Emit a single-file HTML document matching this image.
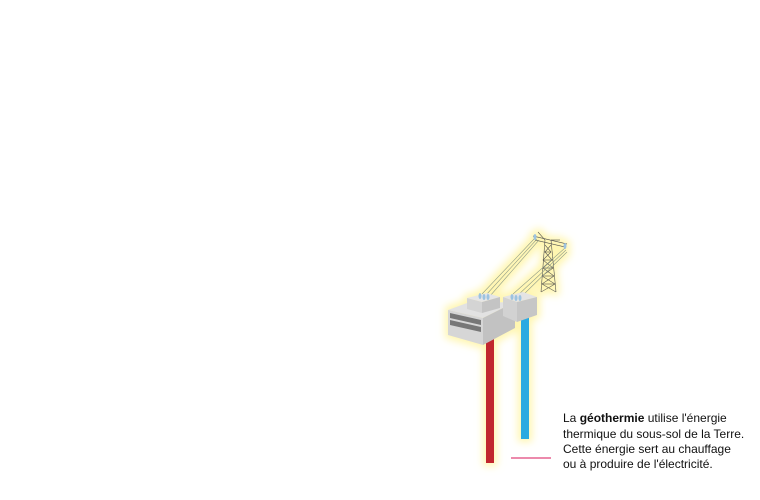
<!DOCTYPE html>
<html><head><style>
html,body{margin:0;padding:0;background:#fff;}
svg{display:block}
</style></head><body>
<svg width="760" height="500" viewBox="0 0 760 500" xmlns="http://www.w3.org/2000/svg">
<defs>
<filter id="g" x="-30%" y="-30%" width="160%" height="160%">
<feMorphology in="SourceAlpha" operator="dilate" radius="3" result="d"/>
<feGaussianBlur in="d" stdDeviation="4" result="b"/>
<feFlood flood-color="#fff6b0"/>
<feComposite in2="b" operator="in" result="c"/>
<feMerge><feMergeNode in="c"/><feMergeNode in="SourceGraphic"/></feMerge>
</filter>
</defs>
<g filter="url(#g)">
<!-- pipes -->
<rect x="486" y="335" width="8" height="128" fill="#c1272d"/>
<rect x="521" y="312" width="8" height="127" fill="#29aae1"/>
<!-- tower -->
<g stroke="#555" stroke-width="0.7" fill="none">
<path d="M545 240 L541 292 M551 240 L556 292"/>
<path d="M533 236 L567 244 M535 240 L565 247"/>
<path d="M545 245 L551 252 L543 260 L553 268 L542 276 L555 284 L541 292 M551 245 L545 252 L552 260 L543 268 L554 276 L542 284 L556 292"/>
<path d="M544 252 H551 M543 260 H553 M543 268 H553 M542 276 H554 M542 284 H555"/>
<path d="M538 232 L545 240 M560 240 L551 240"/>
</g>
<!-- wires -->
<g stroke="#8a9a8a" stroke-width="0.6" fill="none">
<path d="M482 294 L535 238 M486 295 L537 239 M490 296 L539 240"/>
<path d="M513 294 L565 248 M517 296 L566 250 M521 297 L567 252"/>
</g>
<!-- main block -->
<polygon points="448,310 467,303 515,302 483,318" fill="#e2e2e2"/>
<polygon points="448,310 483,318 483,345 448,335" fill="#d6d6d6"/>
<polygon points="483,318 515,302 515,328 483,345" fill="#c2c2c2"/>
<polygon points="450,313 481,320 481,325 450,318" fill="#777"/>
<polygon points="450,320 481,327 481,332 450,325" fill="#777"/>
<!-- small box -->
<polygon points="467,298 487,293 500,297 482,302" fill="#e6e6e6"/>
<polygon points="467,298 482,302 482,313 467,309" fill="#d4d4d4"/>
<polygon points="482,302 500,297 500,308 482,313" fill="#c4c4c4"/>
<!-- right unit -->
<polygon points="503,297 523,292 537,297 517,302" fill="#e4e4e4"/>
<polygon points="503,297 517,302 517,322 503,316" fill="#d2d2d2"/>
<polygon points="517,302 537,297 537,315 517,322" fill="#c6c6c6"/>
<!-- insulators -->
<g fill="#9cc3e0">
<ellipse cx="480" cy="296" rx="1.5" ry="3"/><ellipse cx="484" cy="297" rx="1.5" ry="3"/><ellipse cx="488" cy="297" rx="1.5" ry="3"/>
<ellipse cx="512" cy="297" rx="1.5" ry="3"/><ellipse cx="516" cy="298" rx="1.5" ry="3"/><ellipse cx="520" cy="298" rx="1.5" ry="3"/>
<ellipse cx="535" cy="237" rx="1.5" ry="3"/><ellipse cx="565" cy="246" rx="1.5" ry="3"/>
</g>
</g>
<line x1="511" y1="458" x2="551" y2="458" stroke="#e0457a" stroke-width="1.2"/>
<g font-family="Liberation Sans, sans-serif" font-size="12" fill="#111">
<text x="563" y="422">La <tspan font-weight="bold">géothermie</tspan> utilise l'énergie</text>
<text x="563" y="438">thermique du sous-sol de la Terre.</text>
<text x="563" y="453">Cette énergie sert au chauffage</text>
<text x="563" y="468">ou à produire de l'électricité.</text>
</g>
</svg>
</body></html>
